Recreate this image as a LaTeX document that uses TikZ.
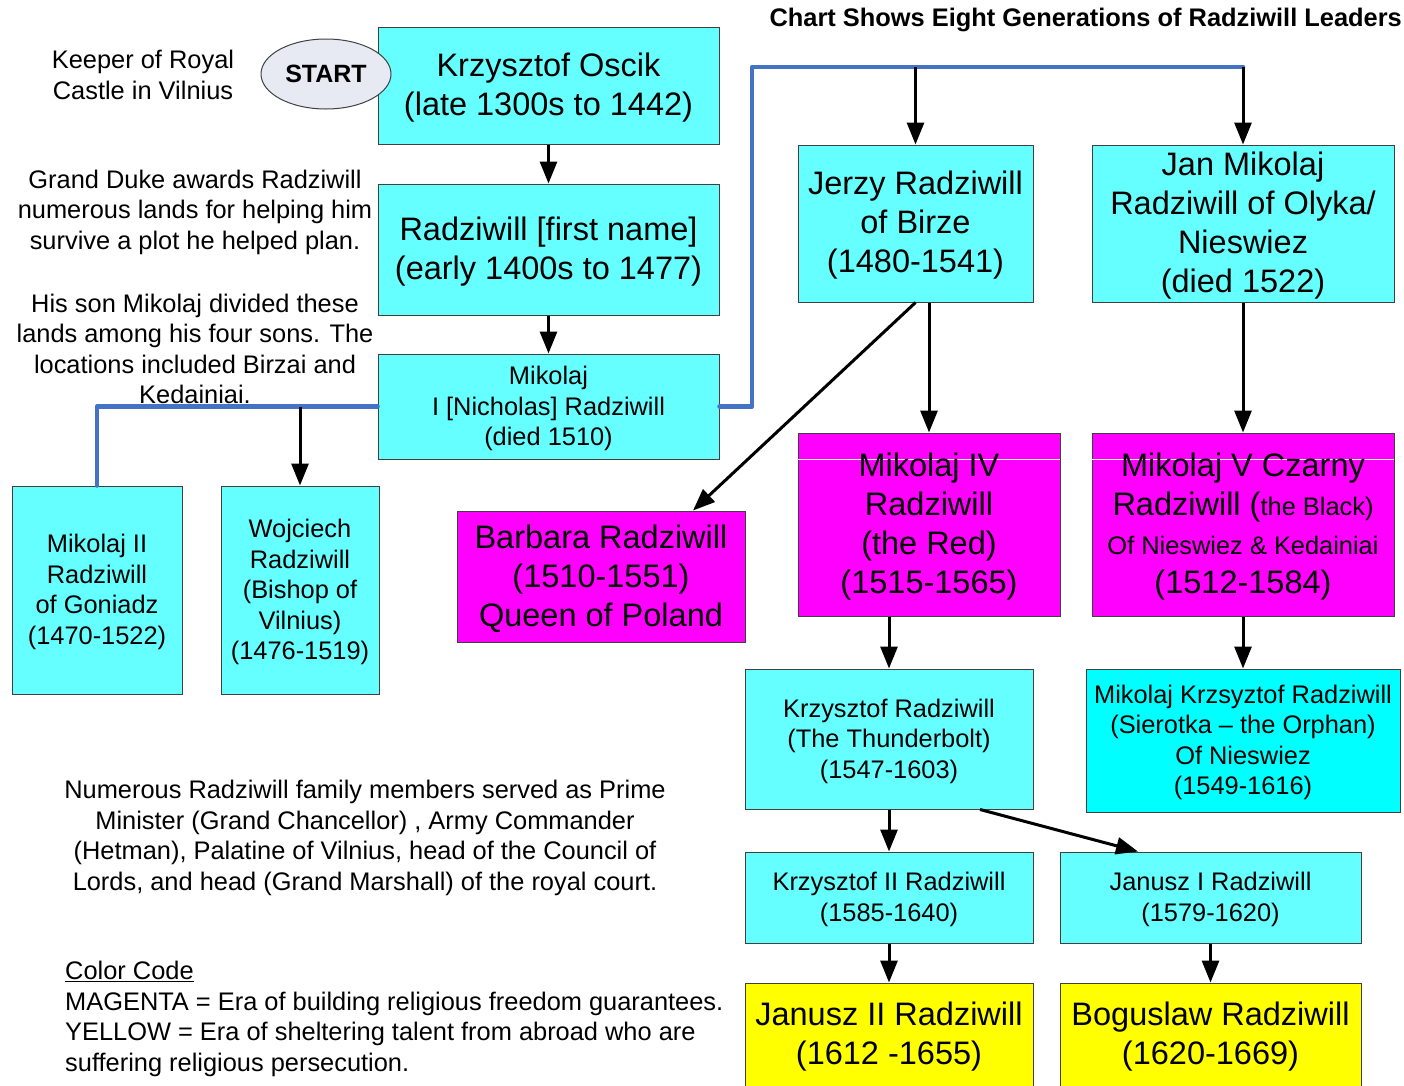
\documentclass[tikz,border=0pt]{standalone}
\usepackage{fontspec}
\setmainfont{Liberation Sans}
\usetikzlibrary{arrows.meta,shapes.geometric,calc}
\definecolor{cyanL}{RGB}{102,255,255}
\definecolor{cyanF}{RGB}{0,255,255}
\definecolor{magF}{RGB}{255,0,255}
\definecolor{yelF}{RGB}{255,255,0}
\definecolor{boxline}{RGB}{64,64,64}
\definecolor{lineblue}{RGB}{68,114,196}
\definecolor{startfill}{RGB}{231,234,243}
\tikzset{
  box/.style={draw=boxline, line width=1pt, fill=cyanL, inner sep=0pt},
  bigtxt/.style={align=center, inner sep=0pt, text=black, yshift=-2pt, font=\fontsize{32.5}{39}\selectfont},
  smalltxt/.style={align=center, inner sep=0pt, text=black, yshift=-2pt, font=\fontsize{25.4}{30.5}\selectfont},
  arr/.style={line width=3pt, -{Triangle[length=22pt,width=17pt]}},
  blueln/.style={draw=lineblue, line width=4.5pt, line cap=round, line join=round},
  note/.style={align=center, inner sep=0pt, font=\fontsize{25.4}{30.5}\selectfont},
}
\begin{document}
\begin{tikzpicture}[x=1pt,y=-1pt]
\useasboundingbox (0,0) rectangle (1404,1085);
\fill[white] (0,0) rectangle (1404,1085);

% title and notes
\node[note, anchor=east, font=\fontsize{25.4}{30.5}\selectfont\bfseries] (title) at (1402,20) {Chart Shows Eight Generations of Radziwill Leaders};
\node[note] (keeper) at (143,75) {Keeper of Royal\\Castle in Vilnius};
\node[note] (grand) at (195,212) {Grand Duke awards Radziwill\\numerous lands for helping him\\survive a plot he helped plan.};
\node[note] (hisson) at (195,349) {His son Mikolaj divided these\\lands among his four sons. The\\locations included Birzai and\\Kedainiai.};
\node[note] (numerous) at (365,838) {Numerous Radziwill family members served as Prime\\Minister (Grand Chancellor) , Army Commander\\(Hetman), Palatine of Vilnius, head of the Council of\\Lords, and head (Grand Marshall) of the royal court.};
\node[note, align=left, anchor=west] (colorcode) at (65,1019) {\underline{Color Code}\\MAGENTA = Era of building religious freedom guarantees.\\YELLOW = Era of sheltering talent from abroad who are\\suffering religious persecution.};

% boxes
\node[box, minimum width=341pt, minimum height=117pt, label={[bigtxt]center:{Krzysztof Oscik\\(late 1300s to 1442)}}] (osc) at (548.5,85.5) {};
\node[box, minimum width=341pt, minimum height=131pt, label={[bigtxt]center:{Radziwill [first name]\\(early 1400s to 1477)}}] (rad) at (548.5,249.5) {};
\node[box, minimum width=341pt, minimum height=105pt, label={[smalltxt]center:{Mikolaj\\I [Nicholas] Radziwill\\(died 1510)}}] (mik1) at (548.5,406.5) {};
\node[box, minimum width=235pt, minimum height=157pt, label={[bigtxt]center:{Jerzy Radziwill\\of Birze\\(1480-1541)}}] (jerzy) at (915.5,223.5) {};
\node[box, minimum width=302pt, minimum height=157pt, label={[bigtxt]center:{Jan Mikolaj\\Radziwill of Olyka/\\Nieswiez\\(died 1522)}}] (jan) at (1243,223.5) {};
\node[box, fill=magF, minimum width=288pt, minimum height=131pt, label={[bigtxt]center:{Barbara Radziwill\\(1510-1551)\\Queen of Poland}}] (barb) at (601,576.5) {};
\node[box, fill=magF, minimum width=262pt, minimum height=183pt] (mik4) at (929,524.5) {};
\node[box, fill=magF, minimum width=302pt, minimum height=183pt] (mik5) at (1243,524.5) {};
\draw[white, line width=1pt] ($(mik4.north west)+(0.5,27)$) -- ($(mik4.north east)+(-0.5,27)$);
\draw[white, line width=1pt] ($(mik5.north west)+(0.5,27)$) -- ($(mik5.north east)+(-0.5,27)$);
\node[bigtxt] (mik4t) at (mik4.center) {Mikolaj IV\\Radziwill\\(the Red)\\(1515-1565)};
\node[bigtxt] (mik5t) at (mik5.center) {Mikolaj V Czarny\\Radziwill ({\fontsize{25.4}{30.5}\selectfont the Black)}\\{\fontsize{25.4}{30.5}\selectfont Of Nieswiez \& Kedainiai}\\(1512-1584)};
\node[box, minimum width=170pt, minimum height=208pt, label={[smalltxt]center:{Mikolaj II\\Radziwill\\of Goniadz\\(1470-1522)}}] (mik2) at (97,590) {};
\node[box, minimum width=158pt, minimum height=208pt, label={[smalltxt]center:{Wojciech\\Radziwill\\(Bishop of\\Vilnius)\\(1476-1519)}}] (woj) at (300,590) {};
\node[box, minimum width=288pt, minimum height=140pt, label={[smalltxt]center:{Krzysztof Radziwill\\(The Thunderbolt)\\(1547-1603)}}] (thund) at (889,739) {};
\node[box, fill=cyanF, minimum width=314pt, minimum height=143pt, label={[smalltxt]center:{Mikolaj Krzsyztof Radziwill\\(Sierotka -- the Orphan)\\Of Nieswiez\\(1549-1616)}}] (orph) at (1243,740.5) {};
\node[box, minimum width=288pt, minimum height=91pt, label={[smalltxt]center:{Krzysztof II Radziwill\\(1585-1640)}}] (kr2) at (889,897.5) {};
\node[box, minimum width=301pt, minimum height=91pt, label={[smalltxt]center:{Janusz I Radziwill\\(1579-1620)}}] (jan1) at (1210.5,897.5) {};
\node[box, fill=yelF, minimum width=288pt, minimum height=103pt, label={[bigtxt]center:{Janusz II Radziwill\\(1612 -1655)}}] (jan2) at (889,1034.5) {};
\node[box, fill=yelF, minimum width=301pt, minimum height=103pt, label={[bigtxt]center:{Boguslaw Radziwill\\(1620-1669)}}] (bog) at (1210.5,1034.5) {};

% start (drawn over the first box)
\node[ellipse, draw=boxline, line width=1pt, fill=startfill, minimum width=130pt, minimum height=70pt, inner sep=0pt, font=\fontsize{25}{30}\selectfont\bfseries] (start) at (326,74) {START};

% blue connector lines
\coordinate (bt) at (752,67);
\draw[blueln] (mik1.east) -| (bt) -- (jan.north |- bt);
\draw[blueln] (mik1.west) -| (mik2.north);
\coordinate (wj) at (woj.north |- mik1.west);

% arrows
\draw[arr] (osc.south) -- (rad.north);
\draw[arr] (rad.south) -- (mik1.north);
\draw[arr] (jerzy.north |- bt) -- (jerzy.north);
\draw[arr] (jan.north |- bt) -- (jan.north);
\draw[arr] (wj) -- (woj.north);
\draw[arr] (jerzy.south) -- ([xshift=92pt]barb.north);
\draw[arr] (mik4.north |- jerzy.south) -- (mik4.north);
\draw[arr] (jan.south) -- (mik5.north);
\draw[arr] (thund.north |- mik4.south) -- (thund.north);
\draw[arr] (mik5.south) -- (orph.north);
\draw[arr] (thund.south) -- (kr2.north);
\draw[arr] ([xshift=91pt]thund.south) -- ([xshift=-72.5pt]jan1.north);
\draw[arr] (kr2.south) -- (jan2.north);
\draw[arr] (jan1.south) -- (bog.north);
\end{tikzpicture}
\end{document}
